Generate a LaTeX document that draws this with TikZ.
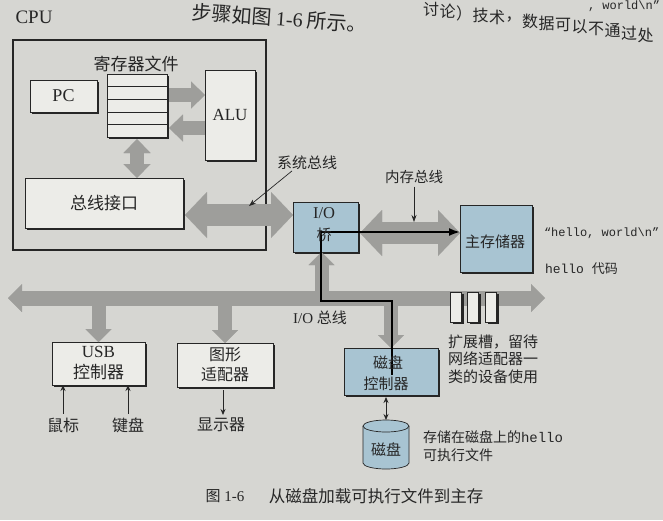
\documentclass[tikz,border=0pt]{standalone}
\usepackage{fontspec}
\setmainfont{Liberation Serif}
\setmonofont{Liberation Mono}
\newfontfamily\cjk{Noto Sans CJK SC}
\usetikzlibrary{arrows.meta,shadows,calc}
\definecolor{paper}{RGB}{214,214,210}
\definecolor{boxfill}{RGB}{236,236,232}
\definecolor{busgray}{RGB}{158,158,155}
\definecolor{blueb}{RGB}{168,196,210}
\definecolor{ink}{RGB}{38,38,38}
\newcommand{\fs}[1]{\fontsize{#1}{#1}\selectfont}
\begin{document}
\begin{tikzpicture}[x=1pt,y=-1pt,
  every node/.style={text=ink,inner sep=0pt,outer sep=0pt},
  box/.style={draw=ink,line width=0.7pt,fill=boxfill,
    drop shadow={shadow xshift=2.2pt,shadow yshift=-2.2pt,opacity=1,fill=ink}},
  bluebox/.style={box,fill=blueb},
  zh/.style={font={\cjk\fs{#1}}},
  fatbus/.style={busgray,line width=22pt,
    {Triangle[width=46pt,length=22pt,line width=0.01pt]}-{Triangle[width=46pt,length=22pt,line width=0.01pt]}},
  iobus/.style={busgray,line width=15pt,
    {Triangle[width=28pt,length=14pt,line width=0.01pt]}-{Triangle[width=28pt,length=14pt,line width=0.01pt]}},
  branch/.style={busgray,line width=14pt,-{Triangle[width=26pt,length=13pt,line width=0.01pt]}},
  cpuarrow/.style={busgray,line width=14pt,-{Triangle[width=27pt,length=14pt,line width=0.01pt]}},
  cpudouble/.style={busgray,line width=14pt,
    {Triangle[width=27pt,length=14pt,line width=0.01pt]}-{Triangle[width=27pt,length=14pt,line width=0.01pt]}},
  thinarrow/.style={ink,line width=0.8pt,-{Stealth[length=6pt,width=5pt]}},
  thindouble/.style={ink,line width=0.8pt,{Stealth[length=6pt,width=5pt]}-{Stealth[length=6pt,width=5pt]}},
  pointer/.style={ink,line width=0.7pt,-{Stealth[length=7pt,width=5pt]}},
  datapath/.style={black,line width=1.8pt,line join=miter,-{Latex[length=11pt,width=8pt]}}
]
% paper
\fill[paper] (0,0) rectangle (663,520);
\useasboundingbox (0,0) rectangle (663,520);

% fragments of the page text
\node[zh=20,anchor=west,rotate=-4] (toptextA) at (192,12) {步骤如图 {\rmfamily 1-6} 所示。};
\foreach \c [count=\i from 0] in {讨,论,）,技,术,，,数,据,可,以,不,通,过,处}
  \node[zh=16] (topch\i) at ({431+16.5*\i},{9+2*\i}) {\c};
\node[font=\ttfamily\fs{12},anchor=west] (toptextC) at (588,6.5) {, world\textbackslash n”};

% CPU
\node[font=\fs{19}] (cpulabel) at (34,17) {CPU};
\node[draw=ink,line width=1.1pt,minimum width=253pt,minimum height=210pt] (cpu) at (139.5,145) {};

\node[zh=17] (reglabel) at (136,64) {寄存器文件};
\node[box,minimum width=60pt,minimum height=63pt] (regfile) at (137,105.5) {};
\foreach \i in {1,2,3,4}
  \draw[ink,line width=0.6pt] ($(regfile.north west)!\i/5!(regfile.south west)$) -- ($(regfile.north east)!\i/5!(regfile.south east)$);

\node[box,minimum width=67pt,minimum height=32pt,font=\fs{18}] (pc) at (63.5,96) {PC};
\node[box,minimum width=50pt,minimum height=90pt,font=\fs{17}] (alu) at (230,115) {ALU};
\node[box,minimum width=158pt,minimum height=50pt,zh=17] (busif) at (104,203) {总线接口};

\draw[cpuarrow] ([yshift=10.5pt,xshift=2pt]regfile.east) -- ([yshift=10.5pt]regfile.east -| alu.west);
\draw[cpuarrow] ([yshift=-22.5pt]regfile.east -| alu.west) -- ([yshift=-22.5pt,xshift=2pt]regfile.east);
\draw[cpudouble] ([yshift=-2pt]regfile.south) -- (regfile.south |- busif.north);

% bridge and memory
\node[bluebox,minimum width=65pt,minimum height=50pt] (bridge) at (325.5,227) {};
\node[bluebox,minimum width=72pt,minimum height=67pt] (mem) at (496,238.5) {};
\node[zh=15] (memlabel) at (495,242) {主存储器};

\draw[fatbus] ([yshift=-12pt,xshift=2pt]busif.east) -- ([yshift=-12pt]busif.east -| bridge.west);
\draw[fatbus] ([yshift=-6pt,xshift=2pt]bridge.east) -- ([yshift=-6pt]bridge.east -| mem.west);

% I/O bus
\coordinate (busL) at (8,298);
\coordinate (busR) at (545,298);
\node[box,minimum width=93pt,minimum height=43pt,align=center,font={\fontsize{17}{21}\selectfont}] (usb) at (98.5,363.5) {USB\\{\cjk 控制器}};
\node[box,minimum width=96pt,minimum height=44pt,align=center,font={\cjk\fontsize{16}{20}\selectfont}] (gfx) at (225,365) {图形\\适配器};
\node[bluebox,minimum width=94pt,minimum height=47pt] (diskctl) at (391,371.5) {};

\draw[iobus] (busL) -- (busR);
\draw[branch] (usb.north |- busL) -- (usb.north);
\draw[branch] (gfx.north |- busL) -- (gfx.north);
\draw[branch] (diskctl.north |- busL) -- (diskctl.north);
\draw[branch] ([xshift=-4pt]bridge.south |- busL) -- ([xshift=-4pt]bridge.south);

% expansion slots
\node[box,minimum width=11pt,minimum height=30pt] (slot1) at (456,307) {};
\node[box,minimum width=11pt,minimum height=30pt] (slot2) at (473,307) {};
\node[box,minimum width=11pt,minimum height=30pt] (slot3) at (491,307) {};
\node[font={\cjk\fontsize{15}{17.5}\selectfont},anchor=west,align=left] (slottext) at (448,359) {扩展槽，留待\\网络适配器一\\类的设备使用};

% data path (disk -> memory)
\coordinate (dp1) at (392,375);
\coordinate (dp2) at (392,301);
\coordinate (dp3) at (321,301);
\coordinate (dp4) at (321,232);
\draw[datapath] (dp1) -- (dp2) -- (dp3) -- (dp4) -- (dp4 -| mem.west);

\node[font=\fs{16.5}] (biolabel) at (324,213) {I/O};
\node[zh=15] (bqiao) at (324,235) {桥};
\node[zh=15] (dclabel1) at (388,363) {磁盘};
\node[zh=15] (dclabel2) at (386,384) {控制器};

% bus labels
\node[zh=15] (sysbuslabel) at (307,163) {系统总线};
\coordinate (sysptr) at (249,206);
\draw[pointer] ([xshift=15pt,yshift=-1pt]sysbuslabel.south west) -- (sysptr);
\node[zh=14.5] (membuslabel) at (414,177) {内存总线};
\coordinate (memptr) at (414,222);
\draw[pointer] ([yshift=-3pt]membuslabel.south) -- (memptr);
\node[font=\fs{15}] (iobuslabel) at (320,318) {I/O {\cjk 总线}};

% hello
\node[font=\ttfamily\fs{12},anchor=west] (hw) at (544,233) {“hello, world\textbackslash n”};
\node[font=\ttfamily\fs{13},anchor=west] (hcode) at (545,269) {hello {\cjk 代码}};

% peripherals
\node[zh=16] (mouse) at (63,425) {鼠标};
\node[zh=16] (kbd) at (128,425) {键盘};
\node[zh=16] (display) at (221,425) {显示器};
\draw[thinarrow,shorten <=4pt] (mouse.north) -- (mouse.north |- usb.south);
\draw[thinarrow,shorten <=4pt] (kbd.north) -- (kbd.north |- usb.south);
\draw[thinarrow,shorten <=3pt,shorten >=3pt] ([xshift=2pt]display.north |- gfx.south) -- ([xshift=2pt]display.north);

% disk
\fill[blueb] (363,426) -- (363,463) arc[start angle=180,end angle=0,x radius=23,y radius=6] -- (409,426) -- cycle;
\draw[ink,line width=0.7pt] (363,426) -- (363,463) arc[start angle=180,end angle=0,x radius=23,y radius=6] -- (409,426);
\filldraw[fill=blueb,draw=ink,line width=0.7pt] (386,426) ellipse [x radius=23,y radius=6];
\node[zh=15] (disk) at (386,450) {磁盘};
\coordinate (disktop) at (386,420);
\draw[thindouble,shorten <=2pt] (disktop |- diskctl.south) -- (disktop);

\node[zh=14,anchor=west] (disktxt1) at (423,437) {存储在磁盘上的{\ttfamily hello}};
\node[zh=14,anchor=west] (disktxt2) at (423,455) {可执行文件};

% caption
\node[font=\fs{15}] (figno) at (225,496) {{\cjk 图} 1-6};
\node[zh=16.5] (caption) at (376,496) {从磁盘加载可执行文件到主存};
\end{tikzpicture}
\end{document}
